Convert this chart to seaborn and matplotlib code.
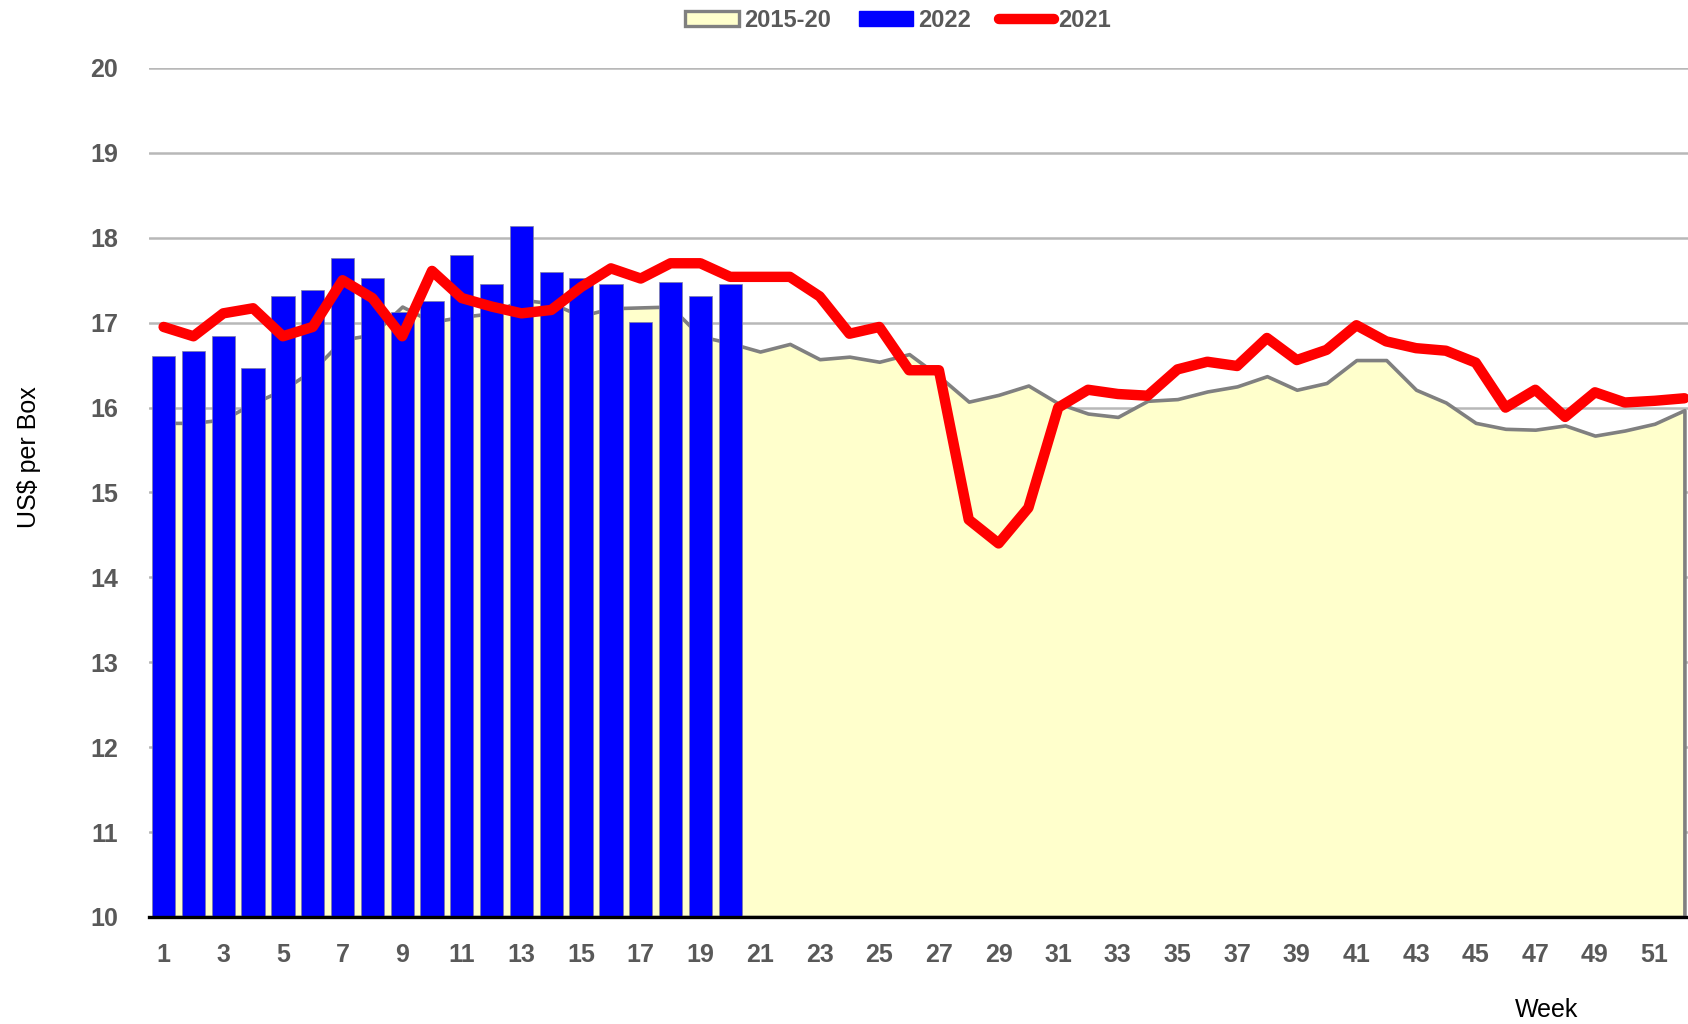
import pandas as pd
import matplotlib.pyplot as plt
import seaborn as sns
from matplotlib.patches import Patch
from matplotlib.lines import Line2D

# weekly prices, US$ per box
weeks = list(range(1, 53))
avg_2015_20 = [15.82, 15.82, 15.86, 16.05, 16.21, 16.44, 16.80, 16.86, 17.19, 17.01,
               17.07, 17.11, 17.27, 17.23, 17.08, 17.17, 17.18, 17.19, 16.84, 16.76,
               16.66, 16.75, 16.57, 16.60, 16.54, 16.63, 16.37, 16.07, 16.15, 16.26,
               16.05, 15.93, 15.89, 16.08, 16.10, 16.19, 16.25, 16.37, 16.21, 16.29,
               16.56, 16.56, 16.21, 16.06, 15.82, 15.75, 15.74, 15.79, 15.67, 15.73,
               15.81, 15.97]
price_2021 = [16.95, 16.84, 17.11, 17.17, 16.84, 16.95, 17.50, 17.29, 16.84, 17.61,
              17.29, 17.19, 17.11, 17.15, 17.42, 17.64, 17.52, 17.70, 17.70, 17.54,
              17.54, 17.54, 17.31, 16.87, 16.95, 16.44, 16.44, 14.68, 14.40, 14.82,
              16.00, 16.21, 16.16, 16.14, 16.45, 16.54, 16.49, 16.82, 16.56, 16.68,
              16.97, 16.78, 16.70, 16.67, 16.53, 16.00, 16.21, 15.89, 16.18, 16.06,
              16.08, 16.11]
weeks_2022 = list(range(1, 21))
price_2022 = [16.61, 16.67, 16.84, 16.47, 17.31, 17.39, 17.76, 17.53, 17.13, 17.26,
              17.80, 17.46, 18.14, 17.60, 17.53, 17.46, 17.01, 17.48, 17.32, 17.46]
y_ticks = list(range(10, 21))
x_ticks = list(range(1, 53, 2))

sns.set_style("white")
plt.rcParams['font.family'] = ['Liberation Sans Narrow', 'Liberation Sans', 'DejaVu Sans']

TICK_GREY = "#595959"
FS = 18

df_avg = pd.DataFrame({"Week": weeks, "Price": avg_2015_20})
df_21 = pd.DataFrame({"Week": weeks, "Price": price_2021})
df_22 = pd.DataFrame({"Week": weeks_2022, "Price": price_2022})

fig = plt.figure(figsize=(16.88, 10.24), dpi=100)
ax = fig.add_axes([0.0881, 0.1045, 0.9119, 0.8291])

# 2015-20 average as a filled area
ax.fill_between(df_avg["Week"], 10, df_avg["Price"], facecolor="#FFFFCC",
                edgecolor="#808080", linewidth=2.6, zorder=1)

# 2022 bars
sns.barplot(data=df_22, x="Week", y="Price", native_scale=True, width=0.78,
            color="#0000FF", saturation=1, edgecolor="#8080A0", linewidth=0.5,
            ax=ax, zorder=2)

# 2021 line
sns.lineplot(data=df_21, x="Week", y="Price", color="#FF0000", linewidth=7.5,
             ax=ax, zorder=3)

ax.set_xlim(0.5, 52.12)
ax.set_ylim(10, 20)
ax.set_yticks(y_ticks)
ax.set_xticks(x_ticks)
ax.set_xticklabels([str(w) for w in x_ticks])
ax.set_xlabel("")
ax.set_ylabel("")

ax.set_axisbelow(True)
ax.yaxis.grid(True, color="#B8B8B8", linewidth=1.8)
ax.xaxis.grid(False)
for side in ["left", "right", "top"]:
  ax.spines[side].set_visible(False)
ax.spines["bottom"].set_color("black")
ax.spines["bottom"].set_linewidth(2.4)
ax.spines["bottom"].set_zorder(4)

ax.tick_params(axis="y", length=0, pad=22, labelsize=FS, labelcolor=TICK_GREY)
ax.tick_params(axis="x", length=0, pad=19, labelsize=FS, labelcolor=TICK_GREY)
for lbl in ax.get_xticklabels() + ax.get_yticklabels():
  lbl.set_fontweight("bold")

fig.text(0.017, 0.554, "US$ per Box", rotation=90, ha="center", va="center",
         fontsize=FS, color="black")
fig.text(0.9165, 0.0137, "Week", ha="center", va="center", fontsize=FS,
         color="black")

handles = [
  Patch(facecolor="#FFFFCC", edgecolor="#808080", linewidth=2.4),
  Patch(facecolor="#0000FF", edgecolor="#0000FF"),
  Line2D([0], [0], color="#FF0000", linewidth=7.5, solid_capstyle="round"),
]
leg = fig.legend(handles, ["2015-20", "2022", "2021"], loc="upper center",
                 bbox_to_anchor=(0.532, 1.012), ncol=3, frameon=False,
                 handlelength=2.3, handleheight=0.6, handletextpad=0.2,
                 columnspacing=1.2, prop={"size": 17, "weight": "bold"})
for t in leg.get_texts():
  t.set_color(TICK_GREY)

fig.savefig("out.png", dpi=100)
